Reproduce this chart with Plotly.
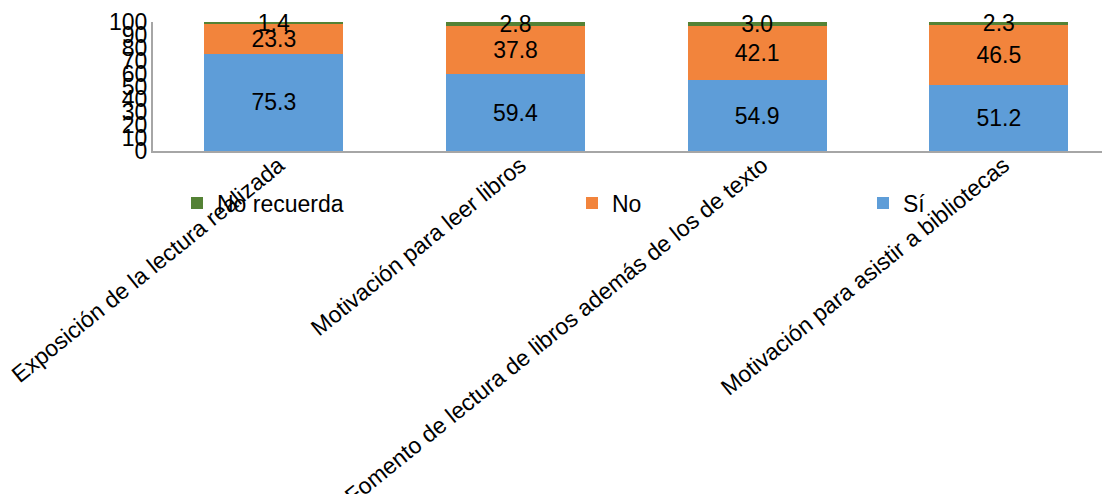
import plotly.graph_objects as go

categories = [
    "Exposición de la lectura realizada",
    "Motivación para leer libros",
    "Fomento de lectura de libros además de los de texto",
    "Motivación para asistir a bibliotecas",
]
si_values = [75.3, 59.4, 54.9, 51.2]
no_values = [23.3, 37.8, 42.1, 46.5]
no_recuerda_values = [1.4, 2.8, 3.0, 2.3]
y_ticks = [0, 10, 20, 30, 40, 50, 60, 70, 80, 90, 100]

FONT = "Liberation Sans, Arial, sans-serif"
W, H = 1110, 494
# page body adds an 8px offset; positions below are in figure coordinates
L, R, T, B = 145, 8, 14, 351
plot_w = W - L - R
plot_h = H - T - B


def px_x(px):
    return (px - L) / plot_w


def px_y(py):
    return 1 - (py - T) / plot_h


series = [
    ("Sí", si_values, "#5e9dd8", "legend4"),
    ("No", no_values, "#f2843c", "legend3"),
    ("No recuerda", no_recuerda_values, "#548235", "legend2"),
]

fig = go.Figure()
for name, vals, color, leg in series:
    fig.add_trace(go.Bar(
        x=categories, y=vals, name=name,
        marker=dict(color=color, line=dict(width=0)),
        text=[f"{v:.1f}" for v in vals],
        textposition="inside", insidetextanchor="middle",
        constraintext="none", cliponaxis=False,
        textfont=dict(family=FONT, size=23, color="#000000"),
        width=0.575, legend=leg,
    ))

leg_common = dict(orientation="h", yanchor="middle", xanchor="left",
                  font=dict(family=FONT, size=23, color="#000000"),
                  bgcolor="rgba(0,0,0,0)", borderwidth=0)
ly = px_y(195)
fig.update_layout(
    width=W, height=H,
    margin=dict(l=L, r=R, t=T, b=B, pad=0, autoexpand=False),
    barmode="stack",
    paper_bgcolor="white", plot_bgcolor="white",
    font=dict(family=FONT, size=23, color="#000000"),
    showlegend=True,
    legend2=dict(x=px_x(169), y=ly, **leg_common),
    legend3=dict(x=px_x(564), y=ly, **leg_common),
    legend4=dict(x=px_x(855), y=ly, **leg_common),
    xaxis=dict(range=[-0.5, 3.46], showline=True, linecolor="#a6a6a6",
               linewidth=2, ticks="", tickangle=-39, automargin=False,
               tickfont=dict(family=FONT, size=23, color="#000000"),
               showgrid=False, zeroline=False, ticklabelstandoff=-10,
               ticklabelshift=5),
    yaxis=dict(range=[0, 100], tickvals=y_ticks, showline=True,
               linecolor="#a6a6a6", linewidth=2, ticks="", automargin=False,
               tickfont=dict(family=FONT, size=23, color="#000000"),
               showgrid=False, zeroline=False, ticklabelstandoff=-1),
)

fig.write_html("out.html")
